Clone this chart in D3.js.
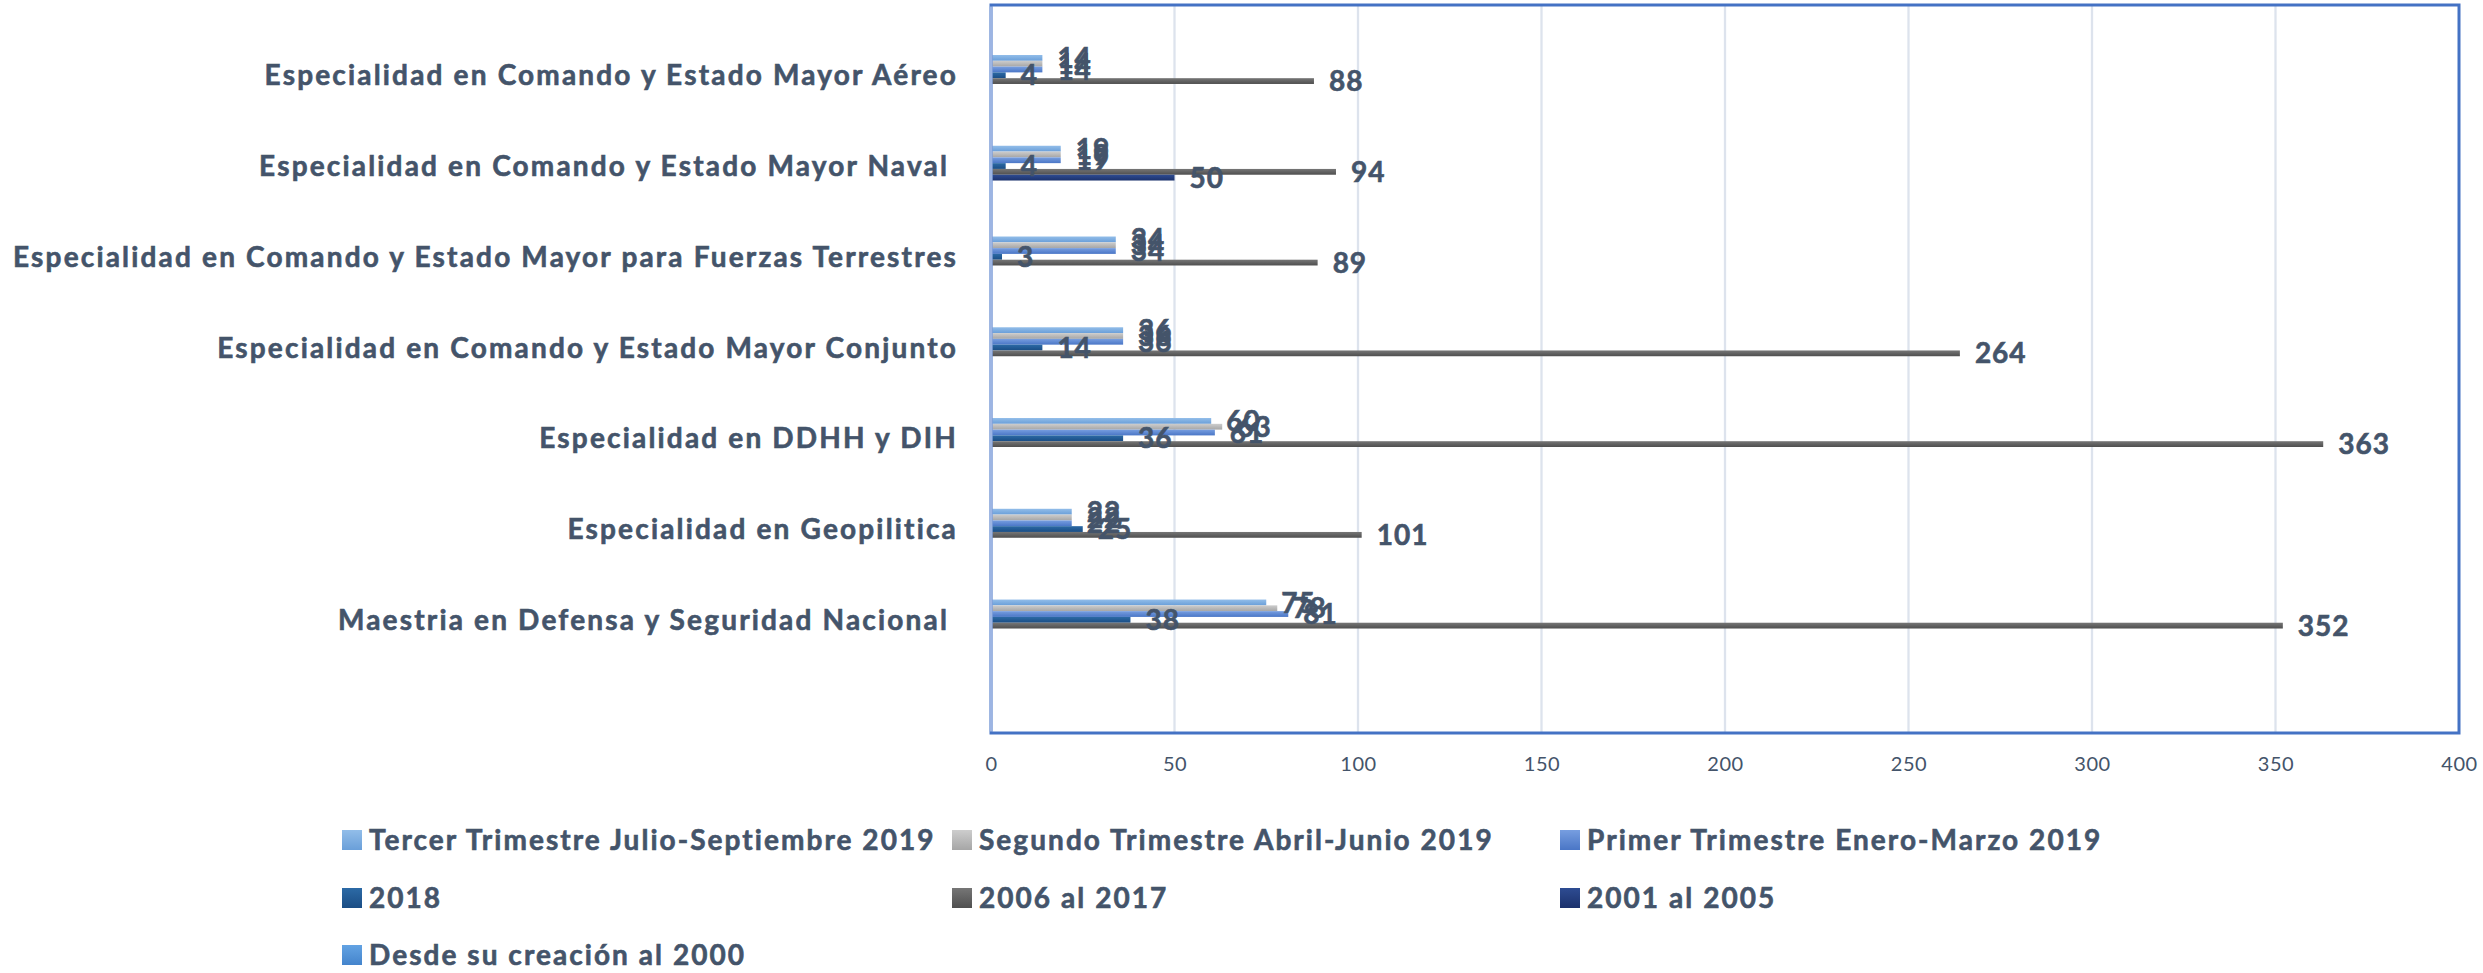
<!DOCTYPE html>
<html>
<head>
<meta charset="utf-8">
<script src="https://cdn.jsdelivr.net/npm/d3@7"></script>
<style>
  html, body { margin: 0; padding: 0; background: #ffffff; }
  svg { display: block; }
  text { font-family: Lato, "Open Sans", sans-serif; }
  .heavy { stroke: #44546a; stroke-width: 0.6px; paint-order: stroke; }
</style>
</head>
<body>
<svg id="chart" width="2483" height="973"></svg>
<script>
// ---------- DATA ----------
const categories = [
  "Especialidad en Comando y Estado Mayor Aéreo",
  "Especialidad en Comando y Estado Mayor Naval ",
  "Especialidad en Comando y Estado Mayor para Fuerzas Terrestres",
  "Especialidad en Comando y Estado Mayor Conjunto",
  "Especialidad en DDHH y DIH",
  "Especialidad en Geopilitica",
  "Maestria en Defensa y Seguridad Nacional "
];
const seriesNames = [
  "Tercer Trimestre Julio-Septiembre 2019",
  "Segundo Trimestre Abril-Junio 2019",
  "Primer Trimestre Enero-Marzo 2019",
  "2018",
  "2006 al 2017",
  "2001 al 2005",
  "Desde su creación al 2000"
];
const tercerTrimestre  = [14, 19, 34, 36, 60, 22, 75];
const segundoTrimestre = [14, 19, 34, 36, 63, 22, 78];
const primerTrimestre  = [14, 19, 34, 36, 61, 22, 81];
const anio2018         = [4, 4, 3, 14, 36, 25, 38];
const anios2006a2017   = [88, 94, 89, 264, 363, 101, 352];
const anios2001a2005   = [null, 50, null, null, null, null, null];
const desdeCreacion    = [null, null, null, null, null, null, null];
const xTickValues = [0, 50, 100, 150, 200, 250, 300, 350, 400];

const seriesValues = [tercerTrimestre, segundoTrimestre, primerTrimestre, anio2018,
                      anios2006a2017, anios2001a2005, desdeCreacion];
const seriesColors = [
  ["#92bde9", "#6a9fd9"],
  ["#cdcdcd", "#a6a6a6"],
  ["#779ee0", "#4a76c6"],
  ["#2c6aa6", "#1a4d84"],
  ["#767676", "#4f4f4f"],
  ["#2e4c92", "#1b316c"],
  ["#63a3e3", "#4484cc"]
];

// ---------- LAYOUT ----------
const svg = d3.select("#chart");
const textColor = "#44546a";
const plot = { left: 991, right: 2459, top: 5, bottom: 733 };

const x = d3.scaleLinear().domain([0, 400]).range([plot.left, plot.right]);
const y = d3.scaleBand().domain(categories).range([29.9, 665.2])
  .paddingInner(0.553).paddingOuter(0.2765);
const ySeries = d3.scaleBand().domain(d3.range(seriesNames.length)).range([0, y.bandwidth()]).padding(0);

// gradients
const defs = svg.append("defs");
seriesColors.forEach((c, i) => {
  const g = defs.append("linearGradient").attr("id", "grad" + i)
    .attr("x1", 0).attr("y1", 0).attr("x2", 0).attr("y2", 1);
  g.append("stop").attr("offset", "0%").attr("stop-color", c[0]);
  g.append("stop").attr("offset", "100%").attr("stop-color", c[1]);
});

// gridlines
svg.append("g").selectAll("line").data(xTickValues.filter(v => v > 0 && v < 400)).join("line")
  .attr("x1", d => x(d)).attr("x2", d => x(d))
  .attr("y1", plot.top).attr("y2", plot.bottom)
  .attr("stroke", "#dde3ed").attr("stroke-width", 2.3);

// bars
const barsG = svg.append("g");
const rows = [];
categories.forEach((cat, ci) => {
  seriesValues.forEach((vals, si) => {
    if (vals[ci] != null) rows.push({ cat, ci, si, v: vals[ci] });
  });
});
barsG.selectAll("rect").data(rows).join("rect")
  .attr("x", x(0))
  .attr("y", d => y(d.cat) + ySeries(d.si))
  .attr("width", d => x(d.v) - x(0))
  .attr("height", ySeries.bandwidth())
  .attr("fill", d => "url(#grad" + d.si + ")");

// plot border
svg.append("rect")
  .attr("x", plot.left).attr("y", plot.top)
  .attr("width", plot.right - plot.left).attr("height", plot.bottom - plot.top)
  .attr("fill", "none").attr("stroke", "#4472c4").attr("stroke-width", 3);
svg.append("line")
  .attr("x1", plot.left).attr("x2", plot.left)
  .attr("y1", plot.top + 1.5).attr("y2", plot.bottom - 1.5)
  .attr("stroke", "#9db5e3").attr("stroke-width", 3);

// x axis labels
const xAxis = d3.axisBottom(x).tickValues(xTickValues).tickSize(0).tickPadding(0);
const axG = svg.append("g").attr("transform", `translate(0, 764)`).call(xAxis);
axG.select(".domain").remove();
axG.selectAll("text")
  .attr("font-family", "Lato, sans-serif").attr("font-size", 20)
  .attr("fill", textColor).attr("dy", "0.35em").attr("y", 0)
  .style("letter-spacing", "0.5px");

// value labels
const labelsG = svg.append("g");
labelsG.selectAll("text").data(rows).join("text")
  .attr("class", "heavy")
  .attr("x", d => x(d.v) + 15)
  .attr("y", d => y(d.cat) + ySeries(d.si) + ySeries.bandwidth() / 2)
  .attr("dy", "0.36em")
  .attr("font-size", 28).attr("font-weight", 700)
  .attr("fill", textColor)
  .style("letter-spacing", "1px")
  .text(d => d.v);

// category labels
const catG = svg.append("g");
const catTexts = catG.selectAll("text").data(categories).join("text")
  .attr("class", "heavy")
  .attr("x", 958)
  .attr("y", d => y(d) + y.bandwidth() / 2)
  .attr("dy", "0.36em")
  .attr("text-anchor", "end")
  .attr("font-size", 28).attr("font-weight", 700)
  .attr("fill", textColor)
  .style("white-space", "pre")
  .text(d => d);
// fit letter spacing so the longest label spans like the reference
(function () {
  const longest = catTexts.filter(d => d.startsWith("Especialidad en Comando y Estado Mayor para")).node();
  const w = longest.getComputedTextLength();
  const n = longest.textContent.length;
  const ls = (945 - w) / n;
  catTexts.style("letter-spacing", ls + "px");
})();

// legend
const legendPos = [
  [342, 840], [952, 840], [1560, 840],
  [342, 898], [952, 898], [1560, 898],
  [342, 955]
];
const legG = svg.append("g");
const items = legG.selectAll("g").data(seriesNames).join("g")
  .attr("transform", (d, i) => `translate(${legendPos[i][0]}, ${legendPos[i][1]})`);
items.append("rect").attr("x", 0).attr("y", -10).attr("width", 20).attr("height", 20)
  .attr("fill", (d, i) => "url(#grad" + i + ")");
const legTexts = items.append("text").attr("x", 27).attr("y", 0).attr("dy", "0.36em")
  .attr("class", "heavy")
  .attr("font-size", 28).attr("font-weight", 700).attr("fill", textColor)
  .text(d => d);
(function () {
  const node = legTexts.filter((d, i) => i === 0).node();
  const w = node.getComputedTextLength();
  const n = node.textContent.length;
  legTexts.style("letter-spacing", ((567 - w) / n) + "px");
})();
</script>
</body>
</html>
